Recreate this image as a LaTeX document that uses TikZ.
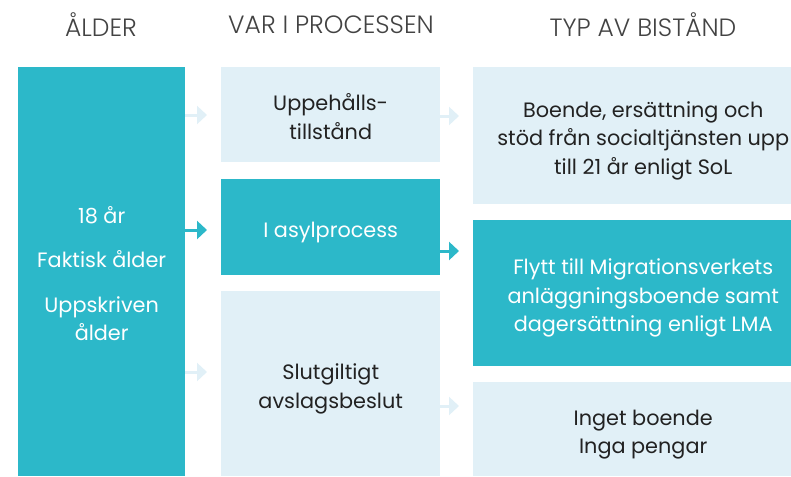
\documentclass[tikz,border=0pt]{standalone}
\usepackage{fontspec}
\setmainfont{Poppins}
\newfontfamily\headfont{Poppins Light}
\usetikzlibrary{arrows.meta}
\definecolor{teal}{HTML}{2CB8C9}
\definecolor{pale}{HTML}{E1F0F7}
\definecolor{ink}{HTML}{222222}
% text set a little lower than the middle of its box
\newcommand\celltext[1]{\raisebox{-4.5pt}[\height][\depth]{\begin{tabular}{@{}c@{}}#1\end{tabular}}}
\begin{document}
\begin{tikzpicture}[x=1pt,y=-1pt]
          \tikzset{
            cell/.style={anchor=north west, inner sep=0pt,
              font=\fontsize{20.8}{28.5}\selectfont},
            dark/.style={cell, fill=teal, text=white},
            light/.style={cell, fill=pale, text=ink},
            head/.style={font=\headfont\fontsize{25}{27}\selectfont, text=ink!85},
            edge/.style={-{Triangle[width=18pt,length=10pt]}, line width=3pt, shorten >=14pt}
          }
          \useasboundingbox (0,0) rectangle (791,476);
          % headings
          \node[head] (h1) at (101,25) {ÅLDER};
          \node[head] (h2) at (331,25) {VAR I PROCESSEN};
          \node[head] (h3) at (643,25) {TYP AV BISTÅND};

          % columns
          \node[dark, minimum width=167pt, minimum height=409pt] (age) at (18,67)
            {\celltext{18 år\\[16pt] Faktisk ålder\\[16pt] Uppskriven\\ ålder}};
          \node[light, minimum width=219pt, minimum height=95pt] (uph) at (221,67)
            {\celltext{Uppehålls-\\ tillstånd}};
          \node[dark, minimum width=219pt, minimum height=96pt] (asyl) at (221,179)
            {\celltext{I asylprocess}};
          \node[light, minimum width=219pt, minimum height=185pt] (slut) at (221,291)
            {\celltext{Slutgiltigt\\ avslagsbeslut}};
          \node[light, minimum width=340pt, minimum height=137pt] (sol) at (473,67)
            {\celltext{Boende, ersättning och\\ stöd från socialtjänsten upp\\ till 21 år enligt SoL}};
          \node[dark, minimum width=340pt, minimum height=146pt] (lma) at (473,220)
            {\celltext{Flytt till Migrationsverkets\\ anläggningsboende samt\\ dagersättning enligt LMA}};
          \node[light, minimum width=340pt, minimum height=94pt] (inget) at (473,382)
            {\celltext{Inget boende\\ Inga pengar}};

          % arrows
          \coordinate (a1) at (185,115);
          \coordinate (a2) at (185,230);
          \coordinate (a3) at (185,372);
          \coordinate (b1) at (440,116);
          \coordinate (b2) at (440,251);
          \coordinate (b3) at (440,406);
          \draw[edge, pale] (a1) -- (a1 -| uph.west);
          \draw[edge, teal] (a2) -- (a2 -| asyl.west);
          \draw[edge, pale] (a3) -- (a3 -| slut.west);
          \draw[edge, pale] (b1) -- (b1 -| sol.west);
          \draw[edge, teal] (b2) -- (b2 -| lma.west);
          \draw[edge, pale] (b3) -- (b3 -| inget.west);
        \end{tikzpicture}
\end{document}
